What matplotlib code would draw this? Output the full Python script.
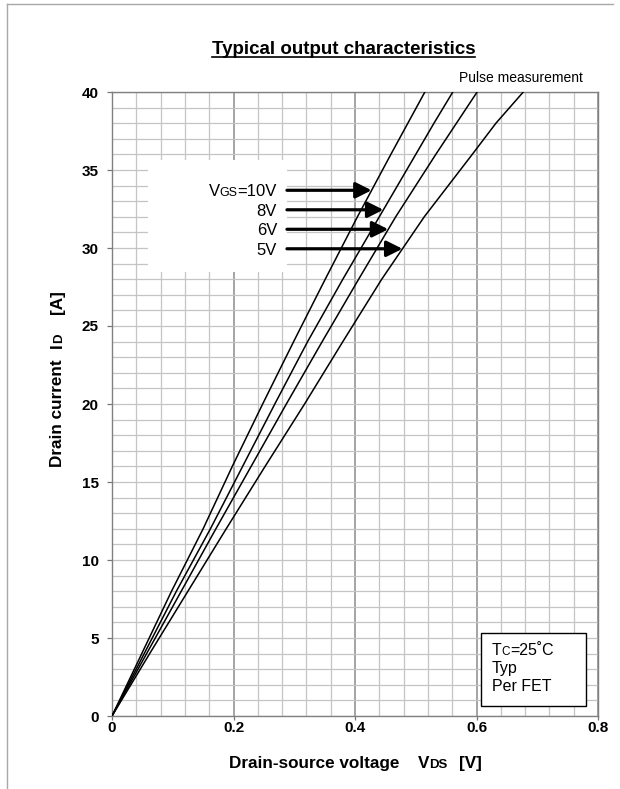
import numpy as np
import matplotlib
matplotlib.use('Agg')
import matplotlib.pyplot as plt
from matplotlib import ticker
from matplotlib.patches import Rectangle
from matplotlib.lines import Line2D

plt.rcParams['font.family'] = ['Liberation Sans', 'DejaVu Sans']

# drain current sample points (A) and the drain-source voltage (V) per gate drive
id_a = [0, 4, 8, 12, 16, 20, 24, 28, 32, 36, 38, 40]
vds_10v = [0, 0.049, 0.098, 0.150, 0.198, 0.248, 0.299, 0.351, 0.404, 0.459, 0.487, 0.515]
vds_8v = [0, 0.053, 0.106, 0.162, 0.215, 0.268, 0.322, 0.380, 0.440, 0.500, 0.530, 0.561]
vds_6v = [0, 0.057, 0.114, 0.171, 0.229, 0.287, 0.346, 0.406, 0.467, 0.533, 0.567, 0.601]
vds_5v = [0, 0.062, 0.125, 0.188, 0.252, 0.317, 0.380, 0.444, 0.514, 0.593, 0.632, 0.677]

gate_labels = ['=10V', '8V', '6V', '5V']
arrow_current = [33.7, 32.45, 31.2, 29.95]   # where each label arrow hits its curve

W, H = 620, 789
fig = plt.figure(figsize=(W / 100, H / 100), dpi=100)
renderer = fig.canvas.get_renderer()


def px(x, y):
    """pixel position (from top-left) -> figure fraction"""
    return x / W, 1 - y / H


def run_text(x, y, pieces, rotation=0, ha='left', weight='normal'):
    """Write pieces side by side on one baseline. A piece is (text, size)
    or a plain number, which is a gap in pixels."""
    items = []
    for p in pieces:
        if isinstance(p, (int, float)):
            items.append((None, p))
            continue
        s, size = p
        t = fig.text(0, 0, s, fontsize=size, weight=weight, rotation=rotation,
                     rotation_mode='anchor', ha='left', va='baseline')
        bb = t.get_window_extent(renderer)
        items.append((t, bb.height if rotation else bb.width))
    total = sum(w for _, w in items)
    pos = -{'left': 0, 'center': total / 2, 'right': total}[ha]
    for t, w in items:
        if t is not None:
            t.set_position(px(x, y - pos) if rotation else px(x + pos, y))
        pos += w


ax = fig.add_axes([112 / W, 73 / H, 486 / W, 624 / H])

for v in (vds_10v, vds_8v, vds_6v, vds_5v):
    ax.plot(v, id_a, color='black', lw=1.1, zorder=4)

ax.set_xlim(0, 0.8)
ax.set_ylim(0, 40)
ax.xaxis.set_major_locator(ticker.MultipleLocator(0.2))
ax.xaxis.set_minor_locator(ticker.MultipleLocator(0.04))
ax.yaxis.set_major_locator(ticker.MultipleLocator(5))
ax.yaxis.set_minor_locator(ticker.MultipleLocator(1))
ax.xaxis.set_major_formatter(lambda x, pos: '0' if x == 0 else f'{x:.1f}')

ax.xaxis.grid(True, which='major', color='#8c8c8c', lw=1.1)
ax.xaxis.grid(True, which='minor', color='#c4c4c4', lw=0.9)
ax.yaxis.grid(True, which='both', color='#c4c4c4', lw=0.9)
ax.set_axisbelow(True)

ax.tick_params(which='minor', length=0)
ax.tick_params(axis='y', which='major', length=3.6, width=0.9, color='#777777', pad=6,
               labelsize=11)
ax.tick_params(axis='x', which='major', length=2.9, width=0.9, color='#777777', pad=0.5,
               labelsize=11)
for lab in ax.get_xticklabels() + ax.get_yticklabels():
    lab.set_fontweight('bold')
for sp in ax.spines.values():
    sp.set_color('#808080')
    sp.set_linewidth(1.0)

# blank panel behind the gate-voltage labels
ax.add_patch(Rectangle(px(148, 272), 139 / W, 112 / H, transform=fig.transFigure,
                       facecolor='white', edgecolor='none', zorder=2))

curves = [vds_10v, vds_8v, vds_6v, vds_5v]
for lab, cur, v in zip(gate_labels, arrow_current, curves):
    tip = np.interp(cur, id_a, v)
    ax.annotate('', xy=(tip, cur), xytext=(0.288, cur),
                arrowprops=dict(arrowstyle='-|>', lw=2.3, color='black',
                                mutation_scale=24, shrinkA=0, shrinkB=0),
                zorder=5)
    y_px = 716 - cur * 15.6 + 6
    if lab.startswith('='):
        run_text(277, y_px, [('V', 12), ('GS', 9), (lab, 12)], ha='right')
    else:
        run_text(277, y_px, [(lab, 12)], ha='right')

# conditions box
ax.add_patch(Rectangle(px(481, 706), 105 / W, 73 / H, transform=fig.transFigure,
                       facecolor='white', edgecolor='black', lw=1.0, zorder=6))
run_text(492, 655, [('T', 11.5), ('C', 8.5), ('=25\u02daC', 11.5)])
run_text(492, 673, [('Typ', 11.5)])
run_text(492, 691, [('Per FET', 11.5)])

# title, underlined
title = fig.text(*px(343.5, 54), 'Typical output characteristics', fontsize=13.5,
                 weight='bold', ha='center', va='baseline')
bb = title.get_window_extent(renderer)
fig.add_artist(Line2D([bb.x0 / W, bb.x1 / W], [1 - 57 / H] * 2, color='black', lw=1.2))

fig.text(*px(583, 82), 'Pulse measurement', fontsize=10, ha='right', va='baseline')

# axis labels with small-size subscripts
run_text(355, 768, [('Drain-source voltage', 12.3), 19, ('V', 12.3), ('DS', 9.5), 11, ('[V]', 12.3)],
         ha='center', weight='bold')
run_text(62, 379, [('Drain current', 12.3), 12, ('I', 12.3), ('D', 9.5), 19, ('[A]', 12.3)],
         rotation=90, ha='center', weight='bold')

# page frame
fig.add_artist(Line2D([7 / W, 7 / W], [0, 1 - 4 / H], color='#a8a8a8', lw=1.0))
fig.add_artist(Line2D([7 / W, 613 / W], [1 - 4 / H] * 2, color='#a8a8a8', lw=1.0))

fig.savefig('out.png', dpi=100, facecolor='white')
